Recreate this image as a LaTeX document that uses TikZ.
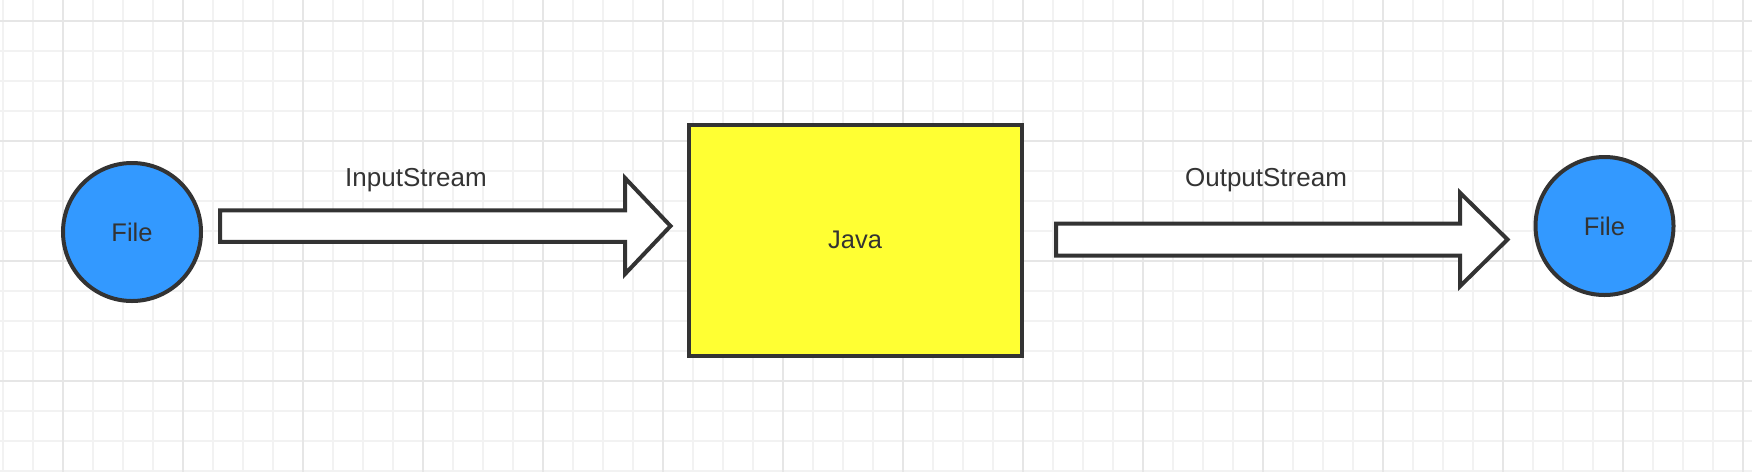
\documentclass[tikz,border=0pt]{standalone}
\usepackage{fontspec}
\setmainfont{Liberation Sans}
\definecolor{ink}{HTML}{333333}
\definecolor{fileblue}{HTML}{3399FF}
\definecolor{javayellow}{HTML}{FFFF33}
\definecolor{gridminor}{HTML}{F2F2F2}
\definecolor{gridmajor}{HTML}{E6E6E6}
\tikzset{
  minorline/.style={gridminor, line width=2pt},
  majorline/.style={gridmajor, line width=2pt},
  outline/.style={draw=ink, line width=4pt},
  filenode/.style={outline, circle, fill=fileblue, minimum size=138pt, inner sep=0pt, text=ink, font=\fontsize{25.5}{30}\selectfont},
  javanode/.style={outline, rectangle, fill=javayellow, minimum width=333pt, minimum height=231pt, inner sep=0pt, text=ink, font=\fontsize{25.5}{30}\selectfont},
  streamlabel/.style={text=ink, inner sep=0pt, font=\fontsize{26}{30}\selectfont},
  blockarrow/.style={outline, fill=white, line join=miter}
}
\begin{document}
\begin{tikzpicture}[x=1pt,y=-1pt]
\fill[white] (0,0) rectangle (1752,472);
\useasboundingbox (0,0) rectangle (1752,472);
% grid
\foreach \i in {0,...,58} \draw[minorline] ({2.7+30*\i},0) -- ({2.7+30*\i},472);
\foreach \j in {0,...,15} \draw[minorline] (0,{20.7+30*\j}) -- (1752,{20.7+30*\j});
\foreach \i in {0,...,14} \draw[majorline] ({62.7+120*\i},0) -- ({62.7+120*\i},472);
\foreach \j in {0,...,3} \draw[majorline] (0,{20.7+120*\j}) -- (1752,{20.7+120*\j});
% shapes
\node[filenode] (fileA) at (132,232) {File};
\node[javanode] (java) at (855,240) {Java};
\node[filenode] (fileB) at (1604.5,226) {File};
% block arrows
\draw[blockarrow] (220,210.25) -- (625,210.25) -- (625,178) -- (670.5,226) -- (625,274) -- (625,241.75) -- (220,241.75) -- cycle;
\draw[blockarrow] (1056,223.5) -- (1460,223.5) -- (1460,192.75) -- (1507.5,239.5) -- (1460,286.25) -- (1460,255.5) -- (1056,255.5) -- cycle;
% labels
\node[streamlabel] (inlabel) at (416,180) {InputStream};
\node[streamlabel] (outlabel) at (1266,180) {OutputStream};
\end{tikzpicture}
\end{document}
